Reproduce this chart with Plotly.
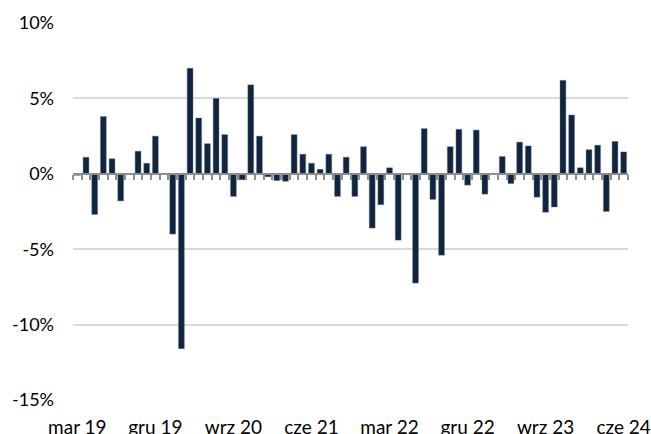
import plotly.graph_objects as go

months_pl = ["sty", "lut", "mar", "kwi", "maj", "cze", "lip", "sie", "wrz", "paź", "lis", "gru"]
categories = [f"{months_pl[m]} {y % 100:02d}" for y in range(2019, 2025) for m in range(12)
              if (y, m) >= (2019, 2) and (y, m) <= (2024, 5)]

values = [-0.1, 1.1, -2.7, 3.8, 1.0, -1.8, 0.0, 1.5, 0.7, 2.5, 0.0, -4.0,
          -11.6, 7.0, 3.7, 2.0, 5.0, 2.6, -1.5, -0.4, 5.9, 2.5, -0.2, -0.45,
          -0.5, 2.6, 1.3, 0.7, 0.3, 1.3, -1.5, 1.1, -1.5, 1.8, -3.6, -2.05,
          0.4, -4.4, 0.0, -7.25, 3.0, -1.7, -5.4, 1.8, 2.95, -0.75, 2.9, -1.35,
          0.0, 1.15, -0.65, 2.1, 1.85, -1.55, -2.55, -2.2, 6.2, 3.9, 0.4, 1.6,
          1.9, -2.5, 2.15, 1.45]

label_ticks = categories[::9]
y_ticks = [-15, -10, -5, 0, 5, 10]
y_ticktext = ["-15%", "-10%", "-5%", "0%", "5%", "10%"]

font = dict(family="Lato, Open Sans, sans-serif", size=18, color="#000000")
xfont = dict(family="Lato, Open Sans, sans-serif", size=19, color="#000000")
bar_color = "#10253F"
axis_gray = "#8C8C8C"

fig = go.Figure()
fig.add_trace(go.Bar(
    x=categories, y=values, width=0.68,
    marker=dict(color=bar_color, line=dict(color="rgba(120,132,150,0.7)", width=0.6)),
    xaxis="x", yaxis="y", showlegend=False,
))
fig.add_trace(go.Bar(
    x=categories, y=[0] * len(categories), xaxis="x2", yaxis="y",
    showlegend=False, hoverinfo="skip", marker=dict(color="rgba(0,0,0,0)"),
))

ymin, ymax = -15, 10
zero_pos = (0 - ymin) / (ymax - ymin)
xrange = [-0.5, len(categories) - 0.5]

fig.update_layout(
    width=651, height=434,
    margin=dict(l=73, r=23, t=23, b=34, autoexpand=False),
    paper_bgcolor="white", plot_bgcolor="white",
    font=font,
    bargap=0.3, barmode="overlay",
    xaxis=dict(
        type="category", categoryorder="array", categoryarray=categories,
        range=xrange, autorange=False,
        anchor="free", position=zero_pos, automargin=False,
        showline=True, linecolor=axis_gray, linewidth=2,
        ticks="outside", tickson="boundaries", ticklen=5, tickwidth=2, tickcolor=axis_gray,
        showticklabels=False, showgrid=False, zeroline=False, dtick=1,
    ),
    xaxis2=dict(
        type="category", categoryorder="array", categoryarray=categories,
        range=xrange, autorange=False,
        overlaying="x", anchor="y", side="bottom", automargin=False,
        tickmode="array", tickvals=label_ticks, ticktext=label_ticks,
        showline=False, ticks="", showgrid=False, zeroline=False,
        ticklabelstandoff=14, tickfont=xfont, tickangle=0,
    ),
    yaxis=dict(
        range=[ymin, ymax], tickmode="array", tickvals=y_ticks, ticktext=y_ticktext,
        showgrid=True, gridcolor="#D9D9D9", gridwidth=1.5, automargin=False,
        zeroline=False, showline=False, ticks="", ticklabelstandoff=18,
        tickfont=font,
    ),
)

fig.write_html("out.html", config={"displayModeBar": False},
               post_script="document.body.style.margin='0';document.body.style.overflow='hidden';")
